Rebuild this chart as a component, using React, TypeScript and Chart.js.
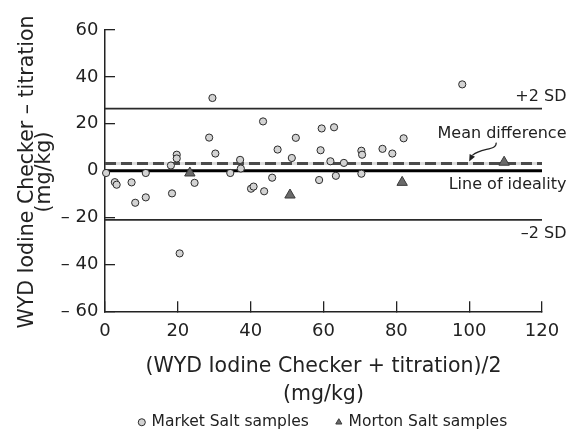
import React, { useEffect, useRef } from 'react';
import { Chart, registerables } from 'chart.js';

Chart.register(...registerables);

// ---- data ----
const marketX = [0.3, 2.7, 3.2, 7.3, 8.3, 11.2, 11.2, 18.1, 18.4, 19.7, 19.7, 20.5, 24.6, 28.6, 29.5, 30.3, 34.4, 37.1, 37.3, 40.1, 40.8, 43.4, 43.7, 45.9, 47.4, 51.3, 52.4, 58.8, 59.2, 59.5, 61.9, 62.9, 63.4, 65.6, 70.4, 70.6, 70.4, 76.2, 78.9, 82, 98.1];
const marketY = [-1, -4.9, -6, -5, -13.7, -1, -11.4, 2.2, -9.7, 6.8, 5.2, -35.3, -5.2, 14.1, 31, 7.3, -1, 4.6, 0.9, -7.7, -6.8, 21, -8.8, -3, 9, 5.4, 14, -4, 8.7, 18, 4, 18.5, -2.2, 3.3, 8.5, 6.8, -1.3, 9.3, 7.3, 13.8, 36.8];
const mortonX = [23.3, 50.8, 81.6, 109.6];
const mortonY = [-1, -10.4, -5, 3.6];

const meanDiff = 3.0;
const upperSD = 26.5;
const lowerSD = -21;
const ideality = 0;
const lineSpan = [0, 120];
const arrowTipX = 100;

const xTicks = [0, 20, 40, 60, 80, 100, 120];
const yTicks = [60, 40, 20, 0, -20, -40, -60];
const seriesNames = ['Market Salt samples', 'Morton Salt samples'];
const xTitle = ['(WYD Iodine Checker + titration)/2', '(mg/kg)'];
const yTitle = ['WYD Iodine Checker – titration', '(mg/kg)'];
const refLabels = { upper: '+2 SD', mean: 'Mean difference', ideal: 'Line of ideality', lower: '–2 SD' };

const FONT = "'DejaVu Sans', sans-serif";
const INK = '#222';

const yTickLabel = (v: number) => (v < 0 ? `– ${-v}` : `${v}`);

const toPts = (xs: number[], ys: number[]) => xs.map((x, i) => ({ x, y: ys[i] }));
const hLine = (v: number) => lineSpan.map((x) => ({ x, y: v }));

const annotationPlugin = {
  id: 'refAnnotations',
  afterDatasetsDraw(chart: any) {
    const { ctx, scales } = chart;
    const x = scales.x;
    const y = scales.y;
    ctx.save();
    ctx.fillStyle = INK;
    ctx.strokeStyle = INK;
    ctx.font = `16px ${FONT}`;
    ctx.textAlign = 'right';
    ctx.textBaseline = 'middle';
    const rx = chart.width - 2.5;
    ctx.fillText(refLabels.upper, rx, y.getPixelForValue(upperSD) - 12);
    ctx.fillText(refLabels.mean, rx, y.getPixelForValue(meanDiff) - 30);
    ctx.fillText(refLabels.ideal, rx, y.getPixelForValue(ideality) + 14);
    ctx.fillText(refLabels.lower, rx, y.getPixelForValue(lowerSD) + 14);

    // curved arrow to mean line
    const tx = x.getPixelForValue(arrowTipX);
    const ty = y.getPixelForValue(meanDiff) - 2;
    const dx = -3, dy = 6;
    const len = Math.hypot(dx, dy);
    const ux = dx / len, uy = dy / len;
    const bx = tx - ux * 7, by = ty - uy * 7;
    const nx = -uy, ny = ux;
    ctx.lineWidth = 1.2;
    ctx.beginPath();
    ctx.moveTo(tx + 27, ty - 19);
    ctx.bezierCurveTo(tx + 28, ty - 11, tx + 12, ty - 14, bx, by);
    ctx.stroke();
    ctx.beginPath();
    ctx.moveTo(tx, ty);
    ctx.lineTo(bx + nx * 3, by + ny * 3);
    ctx.lineTo(bx - nx * 3, by - ny * 3);
    ctx.closePath();
    ctx.fill();

    // y axis title (two lines, rotated)
    ctx.font = `20.5px ${FONT}`;
    ctx.textAlign = 'center';
    ctx.textBaseline = 'alphabetic';
    ctx.translate(32.5, 172);
    ctx.rotate(-Math.PI / 2);
    ctx.fillText(yTitle[0], 0, 0);
    ctx.fillText(yTitle[1], 0, 17);
    ctx.restore();
  },
};

export default function App() {
  const ref = useRef<HTMLCanvasElement>(null);

  useEffect(() => {
    Chart.defaults.font.family = FONT;
    Chart.defaults.color = INK;
    const axisGrid = {
      display: true,
      drawOnChartArea: false,
      drawTicks: true,
      tickLength: -10,
      color: INK,
      lineWidth: 1.3,
    };
    const chart = new Chart(ref.current as HTMLCanvasElement, {
      type: 'scatter',
      data: {
        datasets: [
          {
            label: seriesNames[0],
            data: toPts(marketX, marketY),
            pointStyle: 'circle',
            pointRadius: 3.6,
            backgroundColor: '#d3d3d3',
            borderColor: '#2a2a2a',
            borderWidth: 1,
            order: 0,
            clip: false,
          },
          {
            label: seriesNames[1],
            data: toPts(mortonX, mortonY),
            pointStyle: 'triangle',
            pointRadius: 6,
            backgroundColor: '#6a6a6a',
            borderColor: '#3a3a3a',
            borderWidth: 1,
            order: 0,
            clip: false,
          },
          {
            label: 'ideality',
            data: hLine(ideality),
            showLine: true,
            pointRadius: 0,
            borderColor: '#000',
            borderWidth: 3,
            order: 1,
          },
          {
            label: 'upper',
            data: hLine(upperSD),
            showLine: true,
            pointRadius: 0,
            borderColor: '#2a2a2a',
            borderWidth: 1.8,
            order: 1,
          },
          {
            label: 'lower',
            data: hLine(lowerSD),
            showLine: true,
            pointRadius: 0,
            borderColor: '#2a2a2a',
            borderWidth: 1.8,
            order: 1,
          },
          {
            label: 'mean-dash',
            data: hLine(meanDiff),
            showLine: true,
            pointRadius: 0,
            borderColor: '#4a4a4a',
            borderWidth: 3,
            borderDash: [11, 5],
            order: 2,
          },
          {
            label: 'mean-base',
            data: hLine(meanDiff),
            showLine: true,
            pointRadius: 0,
            borderColor: '#dcdcdc',
            borderWidth: 3,
            order: 3,
          },
        ],
      },
      options: {
        responsive: false,
        animation: false,
        events: [],
        layout: { padding: { top: 30, right: 27, left: 0, bottom: 0 } },
        scales: {
          x: {
            type: 'linear',
            position: 'bottom',
            min: 0,
            max: 120,
            afterBuildTicks: (s: any) => {
              s.ticks = xTicks.map((v) => ({ value: v }));
            },
            afterFit: (s: any) => {
              s.height = 75.2;
            },
            ticks: {
              autoSkip: false,
              maxRotation: 0,
              padding: 8,
              color: INK,
              font: { size: 18, lineHeight: '43.4px' },
            },
            grid: axisGrid,
            border: { display: true, color: INK, width: 1.5 },
            title: {
              display: true,
              text: xTitle,
              color: INK,
              font: { size: 20.5, lineHeight: '28px' },
              padding: { top: 0, bottom: -22 },
            },
          },
          y: {
            type: 'linear',
            position: 'left',
            min: -60,
            max: 60,
            afterBuildTicks: (s: any) => {
              s.ticks = yTicks.map((v) => ({ value: v }));
            },
            afterFit: (s: any) => {
              s.width = 105;
            },
            ticks: {
              autoSkip: false,
              padding: 16.5,
              color: INK,
              font: { size: 18 },
              callback: (v: any) => yTickLabel(Number(v)),
            },
            grid: axisGrid,
            border: { display: true, color: INK, width: 1.5 },
          },
        },
        plugins: {
          tooltip: { enabled: false },
          legend: {
            display: true,
            position: 'bottom',
            fullSize: false,
            labels: {
              usePointStyle: true,
              boxWidth: 4,
              boxHeight: 5,
              padding: 28,
              color: INK,
              font: { size: 15.5 },
              filter: (item: any) => item.datasetIndex < 2,
            },
          },
        },
      },
      plugins: [annotationPlugin],
    } as any);
    return () => chart.destroy();
  }, []);

  return (
    <div style={{ position: 'fixed', left: 0, top: 0, width: 569, height: 440, background: '#fff' }}>
      <canvas ref={ref} width={569} height={440} style={{ display: 'block' }} />
    </div>
  );
}
